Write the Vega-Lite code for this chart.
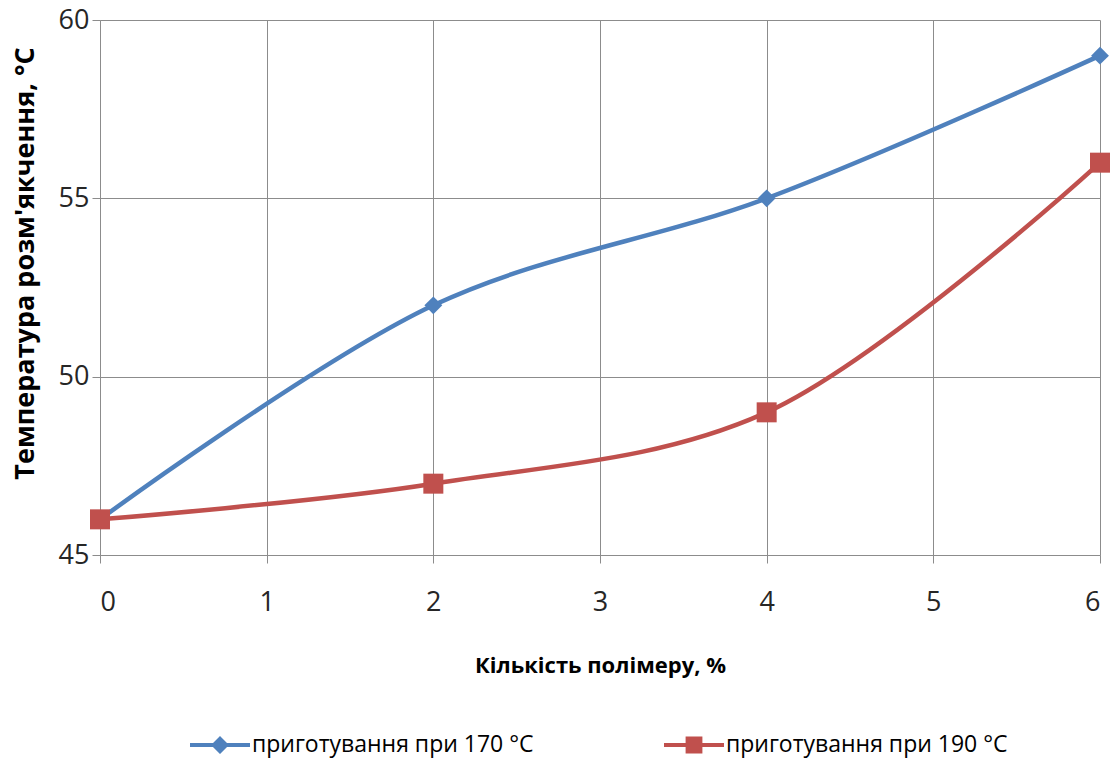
{
  "$schema": "https://vega.github.io/schema/vega-lite/v6.json",
  "width": 1000,
  "height": 535,
  "autosize": "none",
  "padding": {"left": 100, "top": 20, "right": 12, "bottom": 205},
  "background": "white",
  "config": {
    "view": {"stroke": null},
    "font": "Open Sans"
  },
  "data": {
    "values": [
      {"polymer": 0, "temp": 46, "series": "приготування при 170 °C"},
      {"polymer": 2, "temp": 52, "series": "приготування при 170 °C"},
      {"polymer": 4, "temp": 55, "series": "приготування при 170 °C"},
      {"polymer": 6, "temp": 59, "series": "приготування при 170 °C"},
      {"polymer": 0, "temp": 46, "series": "приготування при 190 °C"},
      {"polymer": 2, "temp": 47, "series": "приготування при 190 °C"},
      {"polymer": 4, "temp": 49, "series": "приготування при 190 °C"},
      {"polymer": 6, "temp": 56, "series": "приготування при 190 °C"}
    ]
  },
  "encoding": {
    "x": {
      "field": "polymer",
      "type": "quantitative",
      "scale": {"domain": [0, 6], "nice": false},
      "axis": {
        "title": "Кількість полімеру, %",
        "titleFont": "Open Sans",
        "titleFontSize": 22,
        "titleFontWeight": "bold",
        "titleColor": "#000000",
        "titlePadding": 40,
        "values": [0, 1, 2, 3, 4, 5, 6],
        "format": "d",
        "labelFont": "Open Sans",
        "labelFontSize": 27,
        "labelColor": "#262626",
        "labelPadding": 26,
        "tickSize": 8,
        "tickColor": "#8c8c8c",
        "domainColor": "#8c8c8c",
        "grid": true,
        "gridColor": "#8c8c8c",
        "gridWidth": 1
      }
    },
    "y": {
      "field": "temp",
      "type": "quantitative",
      "scale": {"domain": [45, 60], "nice": false, "zero": false},
      "axis": {
        "title": "Температура розм'якчення,  °C",
        "titleFont": "Open Sans",
        "titleFontSize": 27,
        "titleFontWeight": "bold",
        "titleColor": "#000000",
        "titleX": -75,
        "titleY": 243,
        "titleAlign": "center",
        "titleBaseline": "middle",
        "values": [45, 50, 55, 60],
        "labelFont": "Open Sans",
        "labelFontSize": 27,
        "labelColor": "#262626",
        "labelPadding": 3,
        "tickSize": 8,
        "tickColor": "#8c8c8c",
        "domainColor": "#8c8c8c",
        "grid": true,
        "gridColor": "#8c8c8c",
        "gridWidth": 1
      }
    },
    "color": {
      "field": "series",
      "type": "nominal",
      "scale": {
        "domain": ["приготування при 170 °C", "приготування при 190 °C"],
        "range": ["#4F81BD", "#C0504D"]
      },
      "legend": {
        "title": null,
        "orient": "none",
        "legendX": 90,
        "legendY": 695,
        "direction": "horizontal",
        "columns": 2,
        "columnPadding": 130,
        "symbolSize": 3600,
        "symbolStrokeWidth": 0,
        "labelFont": "Open Sans",
        "labelFontSize": 23,
        "labelColor": "#000000",
        "labelOffset": 2,
        "labelLimit": 400,
        "encode": {
          "symbols": {
            "update": {
              "shape": {"signal": "datum.value === 'приготування при 170 °C' ? 'M-1,-0.07H1V0.07H-1Z M0,-0.3L0.3,0L0,0.3L-0.3,0Z' : 'M-1,-0.07H1V0.07H-1Z M-0.28,-0.28H0.28V0.28H-0.28Z'"},
              "size": {"value": 3600},
              "fill": {"signal": "datum.value === 'приготування при 170 °C' ? '#4F81BD' : '#C0504D'"},
              "fillOpacity": {"value": 1},
              "strokeWidth": {"value": 0}
            }
          }
        }
      }
    }
  },
  "layer": [
    {
      "mark": {"type": "line", "interpolate": "catmull-rom", "strokeWidth": 4.5}
    },
    {
      "transform": [{"filter": "datum.series === 'приготування при 170 °C'"}],
      "mark": {"type": "point", "filled": true, "opacity": 1, "shape": "diamond", "size": 320}
    },
    {
      "transform": [{"filter": "datum.series === 'приготування при 190 °C'"}],
      "mark": {"type": "point", "filled": true, "opacity": 1, "shape": "square", "size": 400}
    }
  ]
}
